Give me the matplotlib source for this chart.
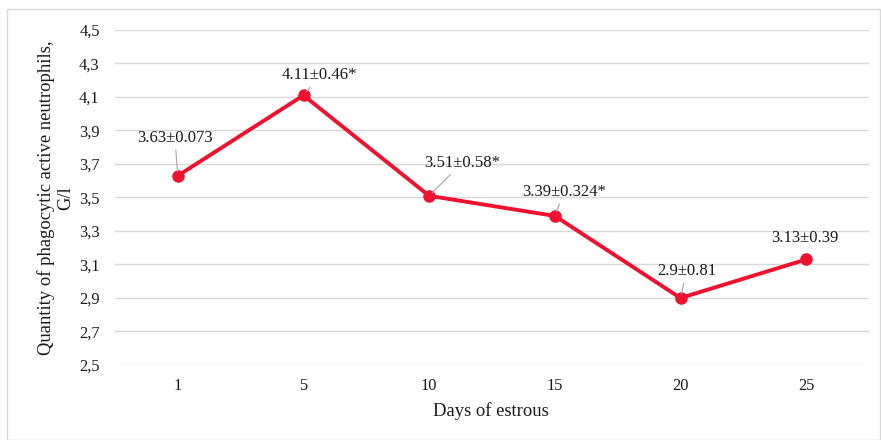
import matplotlib
matplotlib.use("Agg")
import matplotlib.pyplot as plt
from matplotlib.patches import Rectangle

# Data
days = ["1", "5", "10", "15", "20", "25"]
values = [3.63, 4.11, 3.51, 3.39, 2.90, 3.13]
labels = ["3.63±0.073", "4.11±0.46*", "3.51±0.58*", "3.39±0.324*", "2.9±0.81", "3.13±0.39"]
y_ticks = [2.5, 2.7, 2.9, 3.1, 3.3, 3.5, 3.7, 3.9, 4.1, 4.3, 4.5]

# Label placement (pixel offsets from each point) and whether a leader line is drawn
label_offsets = [(-3, 38), (16, 20), (33, 33), (9, 24), (6, 27), (-1, 21)]
leaders = [True, True, True, True, True, False]

plt.rcParams["font.family"] = ["Liberation Serif", "DejaVu Serif"]

fig = plt.figure(figsize=(8.81, 4.40), dpi=100)
fig.patches.append(Rectangle((7 / 881, 0), (880 - 7) / 881, 1 - 9 / 440,
                             transform=fig.transFigure, fill=False,
                             edgecolor="#d9d9d9", linewidth=1))

ax = fig.add_axes([115 / 881, 1 - 365 / 440, (869 - 115) / 881, (365 - 30) / 440])

x = list(range(len(days)))
line_color = "#ee1230"
ax.plot(x, values, color=line_color, linewidth=2.8, marker="o", markersize=8,
        solid_joinstyle="round", zorder=3)

for xi, v, lab, off, lead in zip(x, values, labels, label_offsets, leaders):
    arrow = dict(arrowstyle="-", color="#a6a6a6", lw=0.8, shrinkA=1, shrinkB=3) if lead else None
    ax.annotate(lab, xy=(xi, v), xytext=off, textcoords="offset pixels",
                ha="center", va="center", fontsize=12, color="#1a1a1a",
                arrowprops=arrow, zorder=4)

ax.set_xlim(-0.5, len(days) - 0.5)
ax.set_ylim(2.5, 4.5)
ax.set_xticks(x)
ax.set_xticklabels(days)
ax.set_yticks(y_ticks)
ax.set_yticklabels([f"{t:.1f}".replace(".", ",") for t in y_ticks])
ax.tick_params(axis="both", length=0, labelsize=11.8, colors="#1a1a1a")
ax.tick_params(axis="x", pad=9)
ax.tick_params(axis="y", pad=11)

ax.grid(axis="y", color="#d9d9d9", linewidth=1)
ax.set_axisbelow(True)
for s in ax.spines.values():
    s.set_visible(False)

fig.text(491 / 881, 1 - 411 / 440, "Days of estrous", ha="center", va="center",
         fontsize=13.4, color="#1a1a1a")
fig.text(56 / 881, 1 - 198 / 440, "Quantity of phagocytic active neutrophils,\nG/l",
         ha="center", va="center", rotation=90, fontsize=13.4, color="#1a1a1a",
         multialignment="center", linespacing=1.15)

fig.savefig("out.png", dpi=100)
